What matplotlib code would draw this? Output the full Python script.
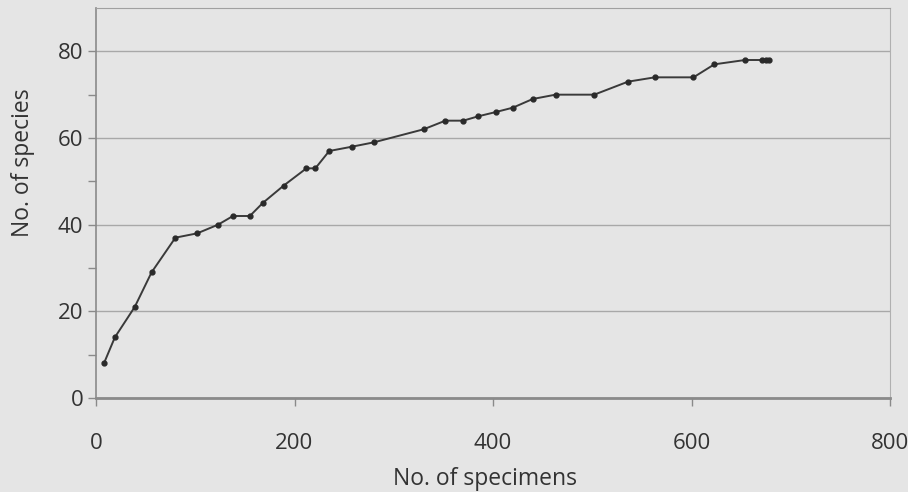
import matplotlib
matplotlib.use("Agg")
import matplotlib.pyplot as plt

specimens = [8, 19, 39, 56, 80, 102, 123, 138, 155, 168, 189, 212, 221, 235, 258, 280,
             330, 352, 370, 385, 403, 420, 440, 463, 502, 536, 563, 602, 623, 654, 671, 675, 678]
species = [8, 14, 21, 29, 37, 38, 40, 42, 42, 45, 49, 53, 53, 57, 58, 59,
           62, 64, 64, 65, 66, 67, 69, 70, 70, 73, 74, 74, 77, 78, 78, 78, 78]
x_ticks = [0, 200, 400, 600, 800]
y_ticks = [0, 20, 40, 60, 80]

plt.rcParams['font.family'] = ['Open Sans', 'DejaVu Sans']
bg = '#e5e5e5'
fig = plt.figure(figsize=(9.08, 4.92), dpi=100, facecolor=bg)
ax = fig.add_axes([96/908, 1-398/492, (890-96)/908, (398-8)/492])
ax.set_facecolor(bg)

ax.plot(specimens, species, color='#3a3a3a', lw=1.4, marker='o', ms=3.5,
        markerfacecolor='#2a2a2a', markeredgecolor='#2a2a2a', zorder=3)

ax.set_xlim(0, 800)
ax.set_ylim(0, 90)
ax.set_xticks(x_ticks)
ax.set_yticks(y_ticks)
ax.set_yticks([10, 30, 50, 70], minor=True)
ax.yaxis.grid(True, which='major', color='#a8a8a8', lw=1.0)
ax.set_axisbelow(True)
ax.tick_params(axis='both', which='major', labelsize=16, colors='#8a8a8a',
               labelcolor='#333333', length=6, width=1.0)
ax.tick_params(axis='y', which='minor', length=6, width=1.0, colors='#8a8a8a')
ax.tick_params(axis='x', pad=19)
ax.tick_params(axis='y', pad=3)

for s in ['left', 'bottom']:
    ax.spines[s].set_color('#8a8a8a')
ax.spines['left'].set_linewidth(1.2)
ax.spines['bottom'].set_linewidth(2.0)
ax.spines['top'].set_color('#a0a0a0')
ax.spines['right'].set_color('#b0b0b0')

ax.set_xlabel('No. of specimens', fontsize=16.5, color='#333333', va='top')
ax.set_ylabel('No. of species', fontsize=16.5, color='#333333')
ax.xaxis.set_label_coords(0.49, (398-467)/390)
ax.yaxis.set_label_coords((35-96)/794, (398-163)/390)

fig.savefig('out.png', dpi=100, facecolor=bg)
